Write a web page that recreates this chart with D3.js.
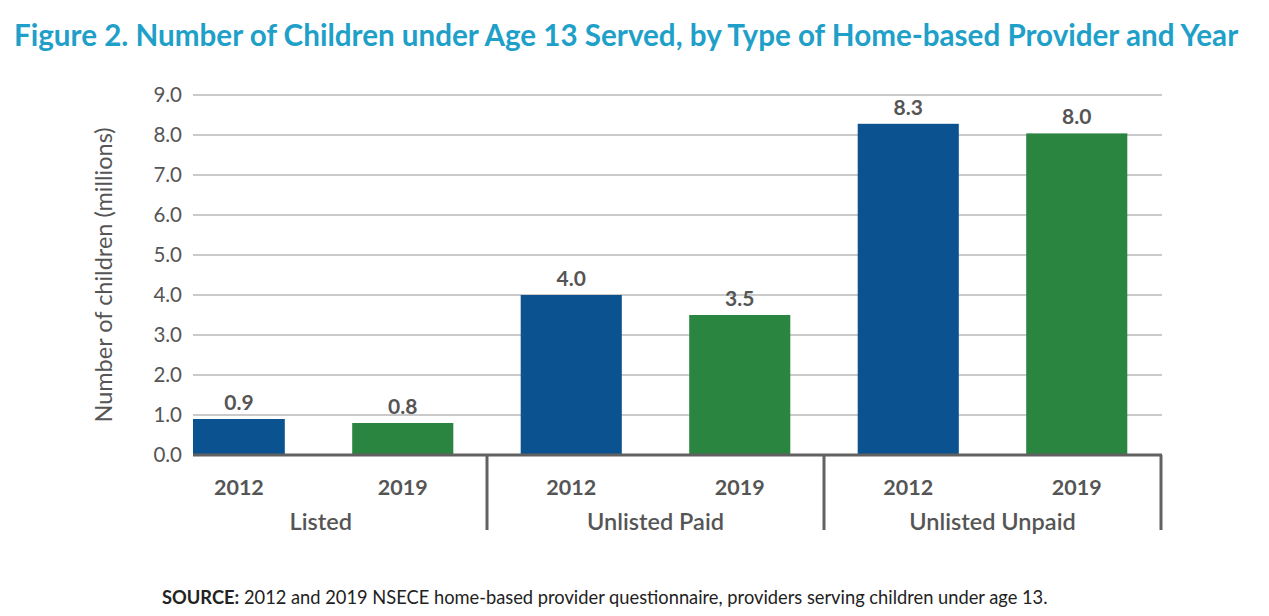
<!DOCTYPE html>
<html><head><meta charset="utf-8">
<script src="https://cdn.jsdelivr.net/npm/d3@7"></script>
<style>body{margin:0;background:#fff;} svg{display:block;}</style>
</head><body>
<svg id="c" width="1269" height="616"></svg>
<script>
const groups = ["Listed", "Unlisted Paid", "Unlisted Unpaid"];
const years = ["2012", "2019"];
const values2012 = [0.9, 4.0, 8.28];
const values2019 = [0.8, 3.5, 8.04];
const valueLabels2012 = ["0.9", "4.0", "8.3"];
const valueLabels2019 = ["0.8", "3.5", "8.0"];
const yTicks = [0, 1, 2, 3, 4, 5, 6, 7, 8, 9];
const colors = {"2012": "#0b5291", "2019": "#2a8541"};

(function () {
const rows = [];
groups.forEach((g, i) => {
  rows.push({group: g, year: "2012", v: values2012[i], label: valueLabels2012[i]});
  rows.push({group: g, year: "2019", v: values2019[i], label: valueLabels2019[i]});
});

const svg = d3.select("#c");
const plotL = 193, plotR = 1162, plotT = 95, plotB = 455;
const y = d3.scaleLinear().domain([0, 9]).range([plotB, plotT]);
const xg = d3.scaleBand().domain(groups).range([150, 1161]).padding(0);
const xy = d3.scaleBand().domain(years).range([0, xg.bandwidth()]).paddingInner(0.4).paddingOuter(0.2);
const F = "Lato, 'Open Sans', sans-serif";

svg.append("text").attr("x", 14).attr("y", 46)
  .attr("font-family", F).attr("font-weight", 700)
  .attr("font-size", 29.6).attr("fill", "#1ea0c9")
  .text("Figure 2. Number of Children under Age 13 Served, by Type of Home-based Provider and Year");

svg.append("g").selectAll("line").data(yTicks.filter(d => d > 0)).join("line")
  .attr("x1", plotL).attr("x2", plotR)
  .attr("y1", d => y(d)).attr("y2", d => y(d))
  .attr("stroke", "#b8b8b8").attr("stroke-width", 1.5);

const yAxis = d3.axisLeft(y).tickValues(yTicks).tickFormat(d3.format(".1f")).tickSize(0).tickPadding(11);
const ya = svg.append("g").attr("transform", `translate(${plotL},0)`).call(yAxis);
ya.select(".domain").remove();
ya.selectAll("text").attr("font-family", F)
  .attr("font-size", 20.5).attr("fill", "#555");

svg.append("text")
  .attr("transform", `translate(112,${(plotT + plotB) / 2}) rotate(-90)`)
  .attr("text-anchor", "middle").attr("font-family", F)
  .attr("font-size", 23.5).attr("fill", "#555").text("Number of children (millions)");

svg.append("defs").append("clipPath").attr("id", "clip")
  .append("rect").attr("x", plotL).attr("y", 0).attr("width", plotR - plotL).attr("height", plotB);
const bx = d => xg(d.group) + xy(d.year);
const cx = d => { const a = Math.max(bx(d), plotL), b = bx(d) + xy.bandwidth(); return (a + b) / 2; };
svg.append("g").attr("clip-path", "url(#clip)").selectAll("rect").data(rows).join("rect")
  .attr("x", bx).attr("width", xy.bandwidth())
  .attr("y", d => y(d.v)).attr("height", d => y(0) - y(d.v))
  .attr("fill", d => colors[d.year]);

svg.append("g").selectAll("text").data(rows).join("text")
  .attr("x", cx).attr("y", d => y(d.v) - 9)
  .attr("text-anchor", "middle").attr("font-family", F)
  .attr("font-weight", 700).attr("font-size", 21).attr("fill", "#555").text(d => d.label);

svg.append("line").attr("x1", plotL).attr("x2", plotR).attr("y1", y(0)).attr("y2", y(0))
  .attr("stroke", "#616161").attr("stroke-width", 3);

svg.append("g").selectAll("line").data(groups).join("line")
  .attr("x1", d => xg(d) + xg.bandwidth()).attr("x2", d => xg(d) + xg.bandwidth())
  .attr("y1", y(0)).attr("y2", 530)
  .attr("stroke", "#616161").attr("stroke-width", 3);

svg.append("g").selectAll("text").data(rows).join("text")
  .attr("x", cx).attr("y", 495).attr("text-anchor", "middle")
  .attr("font-family", F).attr("font-weight", 700)
  .attr("font-size", 21.5).attr("fill", "#555").text(d => d.year);

svg.append("g").selectAll("text").data(groups).join("text")
  .attr("x", (d, i) => i === 0 ? (cx(rows[0]) + cx(rows[1])) / 2 : xg(d) + xg.bandwidth() / 2)
  .attr("y", 530).attr("text-anchor", "middle")
  .attr("font-family", F).attr("font-weight", 600)
  .attr("font-size", 23.5).attr("fill", "#555").text(d => d);

const src = svg.append("text").attr("x", 162).attr("y", 604)
  .attr("font-family", F).attr("font-size", 18.3).attr("fill", "#222");
src.append("tspan").attr("font-weight", 700).text("SOURCE:");
src.append("tspan").text(" 2012 and 2019 NSECE home-based provider questionnaire, providers serving children under age 13.");
})();
</script>
</body></html>
